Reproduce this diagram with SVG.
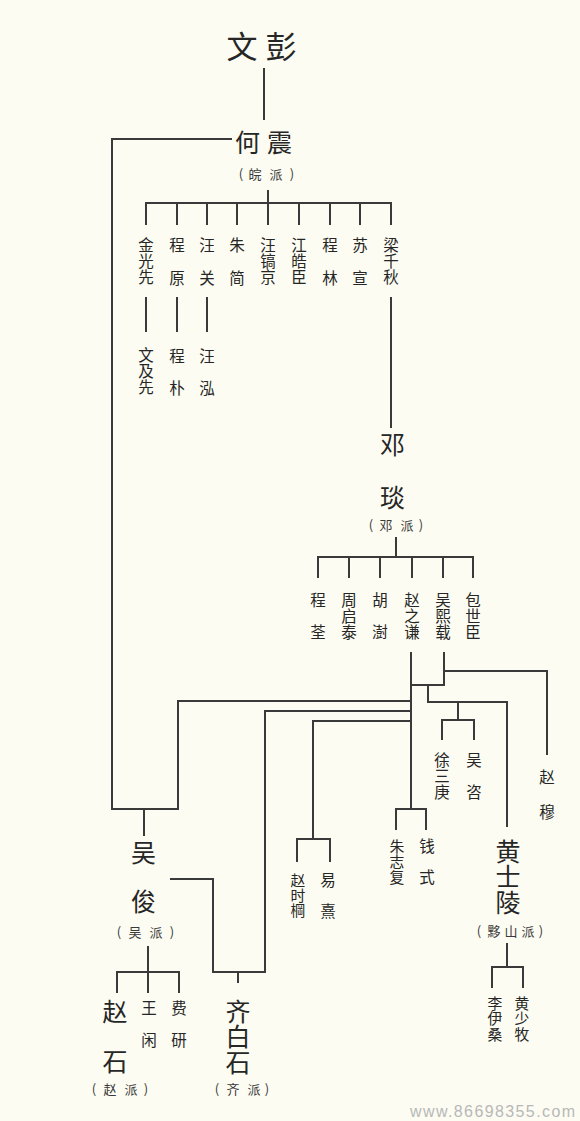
<svg xmlns="http://www.w3.org/2000/svg" width="580" height="1121" viewBox="0 0 580 1121">
<style>
text{font-family:"Noto Sans CJK SC","Noto Sans CJK TC",sans-serif;fill:#262626}
.v{writing-mode:vertical-rl;text-anchor:start}
.t{font-size:31px;letter-spacing:8px;dominant-baseline:central}
.h{font-size:25px;letter-spacing:7px;dominant-baseline:central}
.b{font-size:25px}
.n{font-size:15.5px}
.s{font-size:14.8px}
.p{font-size:13px;fill:#3a3a3a;text-anchor:middle;dominant-baseline:central}
.c path,.c line{stroke:#3a3a3a;stroke-width:2;fill:none}
.w{font-family:"Liberation Sans",sans-serif;font-size:16px;fill:#b8b8b8}
</style>
<rect width="580" height="1121" fill="#fcfcf2"/>
<g class="c" id="connectors">
<line x1="264" y1="68" x2="264" y2="120"/>
<path d="M232 139H112V809H178V701H411"/>
<path d="M144 809V836"/>
<path d="M268 190V203M146 225V203H391V225M177 203V225M207 203V225M237 203V225M268 203V225M299 203V225M330 203V225M360 203V225"/>
<path d="M146 297V332M177 297V332M207 297V332M391 297V428"/>
<path d="M396 537V557M318 578V557H473V578M349 557V578M380 557V578M412 557V578M443 557V578"/>
<path d="M411 652V809M444 652V685H411M444 671H547V755"/>
<path d="M428 685V702H507V827M458 702V720M442 740V720H474V740"/>
<path d="M396 830V809H426V830"/>
<path d="M411 721H313V839M297 862V839H330V862"/>
<path d="M411 711H265V972H213V879H170M238 972V983"/>
<path d="M148 946V972M117 993V972H179V993M148 972V993"/>
<path d="M507 943V967M492 988V967H523V988"/>
</g>
<g id="wenpeng"><text class="t" x="226.5" y="44">文彭</text></g>
<g id="hezhen"><text class="h" x="235" y="141">何震</text>
<text class="p" y="173"><tspan x="241">(</tspan><tspan x="255">皖</tspan><tspan x="276">派</tspan><tspan x="292">)</tspan></text></g>
<g id="jinguangxian"><text class="v n" x="146" y="237.25" letter-spacing="0.5">金光先</text></g>
<g id="chengyuan"><text class="v n" x="177" y="237.25" letter-spacing="17.5">程原</text></g>
<g id="wangguan"><text class="v n" x="207" y="237.25" letter-spacing="17.5">汪关</text></g>
<g id="zhujian"><text class="v n" x="237" y="237.25" letter-spacing="17.5">朱简</text></g>
<g id="wanggaojing"><text class="v n" x="268" y="237.25" letter-spacing="0.5">汪镐京</text></g>
<g id="jianghaochen"><text class="v n" x="299" y="237.25" letter-spacing="0.5">江皓臣</text></g>
<g id="chenglin"><text class="v n" x="330" y="237.25" letter-spacing="17.5">程林</text></g>
<g id="suxuan"><text class="v n" x="360" y="237.25" letter-spacing="17.5">苏宣</text></g>
<g id="liangqianqiu"><text class="v n" x="391" y="237.25" letter-spacing="0.5">梁千秋</text></g>
<g id="wenjixian"><text class="v n" x="146" y="347.25" letter-spacing="0.5">文及先</text></g>
<g id="chengpu"><text class="v n" x="177" y="348.25" letter-spacing="16.5">程朴</text></g>
<g id="wanghong"><text class="v n" x="207" y="348.25" letter-spacing="16.5">汪泓</text></g>
<g id="dengyan"><text class="v b" x="392.5" y="431.5" letter-spacing="28.5">邓琰</text>
<text class="p" y="524"><tspan x="371">(</tspan><tspan x="386">邓</tspan><tspan x="407">派</tspan><tspan x="421">)</tspan></text></g>
<g id="chengquan"><text class="v n" x="318" y="592.25" letter-spacing="16.5">程荃</text></g>
<g id="zhouqitai"><text class="v n" x="349" y="592.25" letter-spacing="0.5">周启泰</text></g>
<g id="hushu"><text class="v n" x="380" y="592.25" letter-spacing="16.5">胡澍</text></g>
<g id="zhaozhiqian"><text class="v n" x="412" y="592.25" letter-spacing="0.5">赵之谦</text></g>
<g id="wuxizai"><text class="v n" x="443" y="592.25" letter-spacing="0.5">吴熙载</text></g>
<g id="baoshichen"><text class="v n" x="473" y="592.25" letter-spacing="0.5">包世臣</text></g>
<g id="xusangeng"><text class="v n" x="442" y="752.25" letter-spacing="0.5">徐三庚</text></g>
<g id="wuzi"><text class="v n" x="474" y="752.25" letter-spacing="16.5">吴咨</text></g>
<g id="zhaomu"><text class="v n" x="547" y="769.75" letter-spacing="19.5">赵穆</text></g>
<g id="zhuzhifu"><text class="v s" x="397" y="838.6" letter-spacing="0.7">朱志复</text></g>
<g id="qianshi"><text class="v n" x="427" y="838.25" letter-spacing="15.5">钱式</text></g>
<g id="zhaoshigang"><text class="v s" x="298" y="872.6" letter-spacing="0.4">赵时棡</text></g>
<g id="yixi"><text class="v n" x="328" y="872.25" letter-spacing="15.5">易熹</text></g>
<g id="huangshiling"><text class="v b" x="508" y="838.5" letter-spacing="0.5">黄士陵</text>
<text class="p" y="930"><tspan x="479">(</tspan><tspan x="494">黟</tspan><tspan x="511">山</tspan><tspan x="528">派</tspan><tspan x="541">)</tspan></text></g>
<g id="liyisang"><text class="v s" x="495" y="995.6" letter-spacing="0.7">李伊桑</text></g>
<g id="huangshaomu"><text class="v s" x="522" y="995.6" letter-spacing="0.7">黄少牧</text></g>
<g id="wujun"><text class="v b" x="143.5" y="840" letter-spacing="23.5">吴俊</text>
<text class="p" y="931"><tspan x="119">(</tspan><tspan x="135">吴</tspan><tspan x="156">派</tspan><tspan x="172">)</tspan></text></g>
<g id="zhaoshi"><text class="v b" x="115" y="999" letter-spacing="24.5">赵石</text>
<text class="p" y="1088"><tspan x="94">(</tspan><tspan x="110">赵</tspan><tspan x="131">派</tspan><tspan x="146">)</tspan></text></g>
<g id="wangxian"><text class="v n" x="149" y="1000.75" letter-spacing="16">王闲</text></g>
<g id="feiyan"><text class="v n" x="179" y="1000.75" letter-spacing="16">费研</text></g>
<g id="qibaishi"><text class="v b" x="238" y="998.5" letter-spacing="0.5">齐白石</text>
<text class="p" y="1088"><tspan x="217">(</tspan><tspan x="233">齐</tspan><tspan x="254">派</tspan><tspan x="267">)</tspan></text></g>
<text class="w" x="410" y="1117" textLength="165">www.86698355.com</text>
</svg>
